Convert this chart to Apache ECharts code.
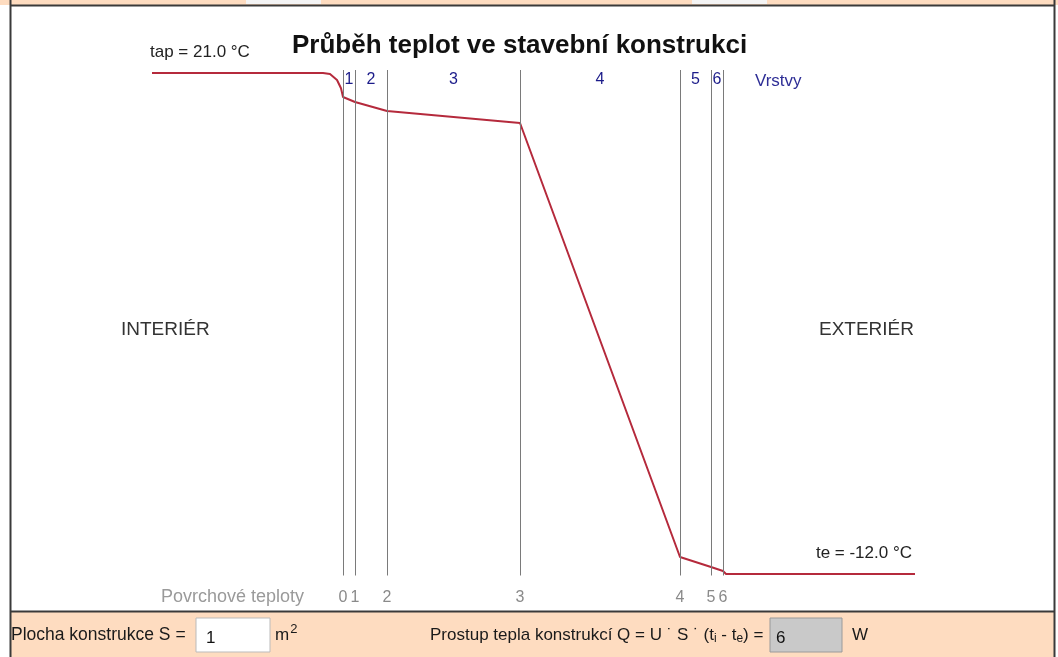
<!DOCTYPE html>
<html>
<head>
<meta charset="utf-8">
<script src="https://cdn.jsdelivr.net/npm/echarts@6/dist/echarts.min.js"></script>
<style>
  html, body { margin: 0; padding: 0; background: #fff; }
  #chart { width: 1058px; height: 657px; }
</style>
</head>
<body>
<div id="chart"></div>
<script>
// vrstvy konstrukce (sirka v mm, jak je nakresleno)
const layerNames = ['1', '2', '3', '4', '5', '6']
const layerThickness = [12, 32, 133, 160, 31, 12]
// povrchove teploty na rozhranich 0..6
const surfaceNames = ['0', '1', '2', '3', '4', '5', '6']
const surfaceTemps = [19.42, 19.09, 18.5, 17.71, -10.88, -11.54, -11.8]
const tap = 21.0
const te = -12.0
// vzduchove vrstvy pred a za konstrukci
const interiorWidth = 191
const exteriorWidth = 192
// prechod u vnitrniho a vnejsiho povrchu
const interiorCurve = [[-20, 21.0], [-13, 20.93], [-6, 20.54], [-2, 20.0]]
const exteriorCurve = [[383, -12.0]]

const boundaries = [0]
layerThickness.forEach((t, i) => boundaries.push(boundaries[i] + t))
const total = boundaries[boundaries.length - 1]

const profile = [[-interiorWidth, tap], ...interiorCurve]
boundaries.forEach((b, i) => profile.push([b, surfaceTemps[i]]))
profile.push(...exteriorCurve, [total + exteriorWidth, te])

const layerCenters = layerNames.map((n, i) => [(boundaries[i] + boundaries[i + 1]) / 2, 20.55])

const font = 'Liberation Sans'
const peach = '#fedcc0'
const frame = '#3a3a3a'
const navy = '#1c1c8a'

const txt = (x, y, text, size, color, extra) => ({
  type: 'text', x, y, silent: true,
  style: Object.assign({
    text, fontSize: size, fontFamily: font, fill: color, textVerticalAlign: 'middle'
  }, extra || {})
})

const chart = echarts.init(document.getElementById('chart'))
chart.setOption({
  animation: false,
  backgroundColor: '#fff',
  grid: { left: 152, right: 143, top: 70, bottom: 81.5 },
  xAxis: { type: 'value', min: -interiorWidth, max: total + exteriorWidth, show: false },
  yAxis: { type: 'value', min: -12.1, max: 21.2, show: false },
  series: [
    {
      type: 'line',
      data: profile,
      symbol: 'none',
      lineStyle: { color: '#b52a3c', width: 2 },
      z: 3,
      markLine: {
        silent: true,
        symbol: 'none',
        lineStyle: { color: '#7a7a7a', width: 1, type: 'solid' },
        label: { position: 'start', distance: 14, color: '#8a8a8a', fontSize: 16, fontFamily: font },
        data: boundaries.map((b, i) => ({ xAxis: b, label: { formatter: surfaceNames[i] } }))
      }
    },
    {
      type: 'scatter',
      data: layerCenters,
      symbolSize: 1,
      itemStyle: { color: 'rgba(0,0,0,0)', opacity: 1 },
      silent: true,
      label: {
        show: true, position: 'inside', color: navy, fontSize: 16, fontFamily: font,
        formatter: p => layerNames[p.dataIndex]
      }
    }
  ],
  graphic: [
    // horni a spodni pruh formulare
    { type: 'rect', shape: { x: 0, y: 0, width: 1058, height: 5 }, style: { fill: peach }, silent: true },
    { type: 'rect', shape: { x: 246, y: 0, width: 75, height: 4 }, style: { fill: '#f4f4f4' }, silent: true },
    { type: 'rect', shape: { x: 692, y: 0, width: 75, height: 4 }, style: { fill: '#f4f4f4' }, silent: true },
    { type: 'rect', shape: { x: 10, y: 612, width: 1044, height: 45 }, style: { fill: peach }, silent: true },
    { type: 'line', shape: { x1: 10, y1: 5.5, x2: 1054, y2: 5.5 }, style: { stroke: frame, lineWidth: 2 }, silent: true },
    { type: 'line', shape: { x1: 10, y1: 611.5, x2: 1054, y2: 611.5 }, style: { stroke: frame, lineWidth: 2 }, silent: true },
    { type: 'line', shape: { x1: 10.5, y1: 0, x2: 10.5, y2: 657 }, style: { stroke: frame, lineWidth: 2 }, silent: true },
    { type: 'line', shape: { x1: 1054.5, y1: 0, x2: 1054.5, y2: 657 }, style: { stroke: frame, lineWidth: 2 }, silent: true },

    txt(292, 46, 'Průběh teplot ve stavební konstrukci', 26, '#111', { fontWeight: 'bold' }),
    txt(150, 52, 'tap = 21.0 °C', 17, '#222'),
    txt(912, 553, 'te = -12.0 °C', 17, '#222', { textAlign: 'right' }),
    txt(121, 330, 'INTERIÉR', 19, '#333'),
    txt(819, 330, 'EXTERIÉR', 19, '#333'),
    txt(755, 81, 'Vrstvy', 17, '#2e2e96'),
    txt(161, 597, 'Povrchové teploty', 18, '#9a9a9a'),

    // spodni formular
    txt(11, 635, 'Plocha konstrukce S =', 17.5, '#1a1a1a'),
    { type: 'rect', shape: { x: 196, y: 618, width: 74, height: 34 }, style: { fill: '#fff', stroke: '#bbb', lineWidth: 1 }, silent: true },
    txt(206, 638, '1', 17, '#111'),
    {
      type: 'text', x: 275, y: 635, silent: true,
      style: {
        text: '{b|m}{s|2}', fill: '#1a1a1a', textVerticalAlign: 'middle',
        rich: { b: { fontSize: 17, fontFamily: font }, s: { fontSize: 13, fontFamily: font, padding: [0, 0, 12, 1] } }
      }
    },
    {
      type: 'text', x: 430, y: 635, silent: true,
      style: {
        text: '{n|Prostup tepla konstrukcí Q = U ˙ S ˙ (t}{s|i}{n| - t}{s|e}{n|) =}',
        fill: '#1a1a1a', textVerticalAlign: 'middle',
        rich: { n: { fontSize: 17, fontFamily: font }, s: { fontSize: 12, fontFamily: font, padding: [8, 0, 0, 0] } }
      }
    },
    { type: 'rect', shape: { x: 770, y: 618, width: 72, height: 34 }, style: { fill: '#c9c9c9', stroke: '#9a9a9a', lineWidth: 1 }, silent: true },
    txt(776, 638, '6', 17, '#111'),
    txt(852, 635, 'W', 17, '#1a1a1a')
  ]
})
</script>
</body>
</html>
